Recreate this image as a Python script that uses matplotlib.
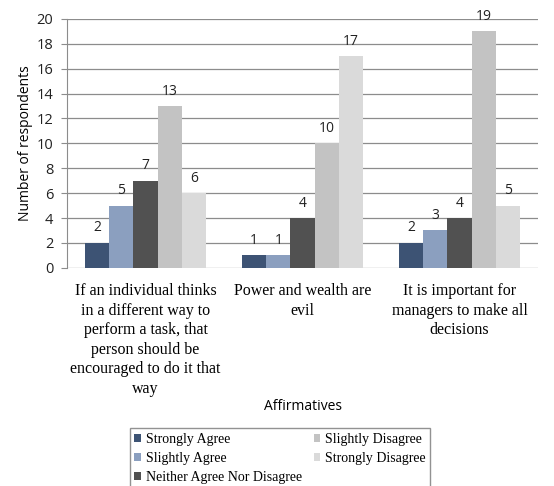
import numpy as np
import matplotlib.pyplot as plt

# survey counts per affirmative, one list per answer
categories = [
    "If an individual thinks\nin a different way to\nperform a task, that\nperson should be\nencouraged to do it that\nway",
    "Power and wealth are\nevil",
    "It is important for\nmanagers to make all\ndecisions",
]
series_names = ["Strongly Agree", "Slightly Agree", "Neither Agree Nor Disagree",
                "Slightly Disagree", "Strongly Disagree"]
strongly_agree = [2, 1, 2]
slightly_agree = [5, 1, 3]
neither = [7, 4, 4]
slightly_disagree = [13, 10, 19]
strongly_disagree = [6, 17, 5]
values = [strongly_agree, slightly_agree, neither, slightly_disagree, strongly_disagree]

colors = ["#3d5374", "#8b9fbf", "#515151", "#c3c3c3", "#dadada"]

sans = ["Open Sans", "DejaVu Sans"]
serif = ["Liberation Serif", "DejaVu Serif"]

fig = plt.figure(figsize=(5.54, 4.86), dpi=100)
ax = fig.add_axes([0.121, 0.449, 0.850, 0.512])

x = np.arange(len(categories))
w = 0.154
for i, (name, vals) in enumerate(zip(series_names, values)):
    pos = x + (i - 2) * w
    bars = ax.bar(pos, vals, width=w, color=colors[i], label=name, zorder=3)
    for b, v in zip(bars, vals):
        ax.text(b.get_x() + b.get_width() / 2, v + 0.6, str(v), ha="center", va="bottom",
                fontsize=10, family=sans, color="#222222")

ax.set_xlim(-0.5, 2.5)
ax.set_ylim(0, 20)
ax.set_yticks(range(0, 21, 2))
ax.yaxis.grid(True, color="#8c8c8c", linewidth=0.9, zorder=0)
ax.set_axisbelow(True)
for s in ["top", "right", "bottom"]:
    ax.spines[s].set_visible(False)
ax.spines["left"].set_color("#8c8c8c")
ax.tick_params(axis="y", length=4, color="#8c8c8c", labelsize=10.5, labelcolor="#222222", pad=6)
for t in ax.get_yticklabels():
    t.set_family(sans)
ax.set_ylabel("Number of respondents", fontsize=10, family=sans)
ax.yaxis.set_label_coords(-0.072, 0.5)

ax.set_xticks(x)
ax.set_xticklabels(categories, fontsize=11.5, family=serif, linespacing=1.3)
ax.tick_params(axis="x", length=0, pad=11)

fig.text(0.547, 0.163, "Affirmatives", ha="center", va="center", fontsize=10, family=sans)

leg = fig.legend(loc="upper left", bbox_to_anchor=(0.234, 0.12), ncol=2,
                 prop={"family": serif, "size": 10}, frameon=True, fancybox=False,
                 handlelength=0.5, handleheight=0.5, handletextpad=0.3,
                 columnspacing=0.85, labelspacing=0.45, borderpad=0.35,
                 borderaxespad=0)
leg.get_frame().set_edgecolor("#777777")
leg.get_frame().set_linewidth(1.0)

fig.savefig("out.png", dpi=100)
